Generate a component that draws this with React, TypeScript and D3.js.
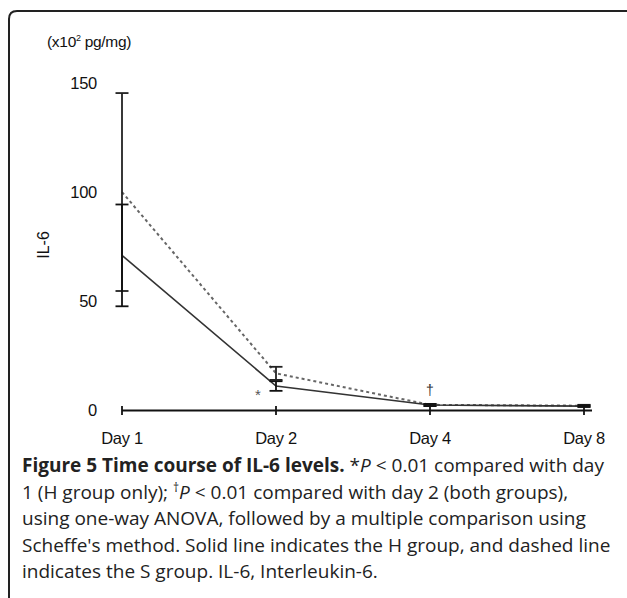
import React from "react";
import * as d3 from "d3";

const days = ["Day 1", "Day 2", "Day 4", "Day 8"];
const hMean = [71, 11.2, 2.5, 2];
const hErr = [23.3, 2.2, 0.5, 0.4];
const sMean = [100, 17, 2.6, 2.2];
const sErr = [45.3, 3, 0.4, 0.4];
const yTicks = [0, 50, 100, 150];

const W = 627;
const H = 598;

export default function App() {
  const x = d3.scalePoint<string>().domain(days).range([122, 584]);
  const y = d3.scaleLinear().domain([0, 150]).range([410.5, 82.8]);
  const line = d3
    .line<number>()
    .x((_, i) => x(days[i]) as number)
    .y((d) => y(d));

  const errBar = (m: number[], e: number[], key: string, color: string) =>
    m.map((v, i) => {
      const cx = x(days[i]) as number;
      const top = y(v + e[i]);
      const bot = y(v - e[i]);
      return (
        <g key={key + i} stroke={color} strokeWidth={1.8}>
          <line x1={cx} x2={cx} y1={top} y2={bot} />
          <line x1={cx - 6.5} x2={cx + 6.5} y1={top} y2={top} />
          <line x1={cx - 6.5} x2={cx + 6.5} y1={bot} y2={bot} />
        </g>
      );
    });

  const chartFont = "'Liberation Sans', Arial, sans-serif";
  const capFont = "'Open Sans', sans-serif";
  const capSize = 19;
  const capX = 22;
  const capLines = [472, 498.5, 525, 551.5, 578];

  return (
    <svg width={W} height={H} style={{ position: "absolute", left: 0, top: 0, background: "#fff" }}>
      <path d={`M 9 ${H} V 19 Q 9 11 17 11 H ${W}`} fill="none" stroke="#222" strokeWidth={2} />

      <text x={47} y={47} fontFamily={chartFont} fontSize={15.5} fill="#111" letterSpacing={-0.3}>
        (x10<tspan dy={-6} fontSize={9}>2</tspan>
        <tspan dy={6}> pg/mg)</tspan>
      </text>
      <text
        transform="translate(49,245) rotate(-90)"
        textAnchor="middle"
        fontFamily={chartFont}
        fontSize={16}
        fill="#111"
      >
        IL-6
      </text>

      {yTicks.map((t) => (
        <text
          key={t}
          x={97}
          y={y(t)}
          dy="0.35em"
          textAnchor="end"
          fontFamily={chartFont}
          fontSize={16.5}
          fill="#111"
          letterSpacing={-0.3}
        >
          {t}
        </text>
      ))}

      {/* x axis */}
      <line x1={122} x2={592} y1={y(0)} y2={y(0)} stroke="#111" strokeWidth={2} />
      {days.map((d) => (
        <g key={d}>
          <line x1={x(d)} x2={x(d)} y1={y(0) - 4.5} y2={y(0) + 4.5} stroke="#111" strokeWidth={1.8} />
          <text
            x={x(d)}
            y={444}
            textAnchor="middle"
            fontFamily={chartFont}
            fontSize={16.5}
            fill="#111"
            letterSpacing={-0.3}
          >
            {d}
          </text>
        </g>
      ))}

      {/* series */}
      <path d={line(sMean) || ""} fill="none" stroke="#666" strokeWidth={2} strokeDasharray="3,3" />
      <path d={line(hMean) || ""} fill="none" stroke="#333" strokeWidth={1.6} />
      {errBar(sMean, sErr, "s", "#222")}
      {errBar(hMean, hErr, "h", "#111")}

      <text x={x("Day 2")! - 18} y={y(hMean[1]) + 14} textAnchor="middle" fontFamily={chartFont} fontSize={15} fill="#555">
        *
      </text>
      <text x={x("Day 4")} y={y(sMean[2]) - 10} textAnchor="middle" fontFamily={chartFont} fontSize={14} fill="#333">
        †
      </text>

      {/* caption */}
      <g fontFamily={capFont} fontSize={capSize} fill="#222">
        <text x={capX} y={capLines[0]}>
          <tspan fontWeight="bold">Figure 5 Time course of IL-6 levels.</tspan>
          <tspan> *</tspan>
          <tspan fontStyle="italic">P</tspan>
          <tspan> &lt; 0.01 compared with day</tspan>
        </text>
        <text x={capX} y={capLines[1]}>
          1 (H group only);{" "}
          <tspan dy={-7} fontSize={12}>†</tspan>
          <tspan dy={7} fontStyle="italic">P</tspan>
          <tspan> &lt; 0.01 compared with day 2 (both groups),</tspan>
        </text>
        <text x={capX} y={capLines[2]}>
          using one-way ANOVA, followed by a multiple comparison using
        </text>
        <text x={capX} y={capLines[3]}>
          Scheffe's method. Solid line indicates the H group, and dashed line
        </text>
        <text x={capX} y={capLines[4]}>
          indicates the S group. IL-6, Interleukin-6.
        </text>
      </g>
    </svg>
  );
}
